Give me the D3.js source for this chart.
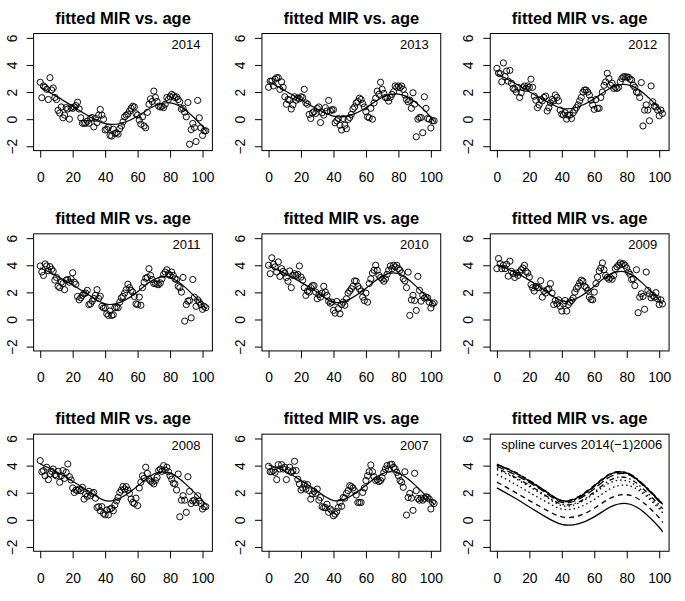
<!DOCTYPE html>
<html><head><meta charset="utf-8">
<script src="https://cdn.jsdelivr.net/npm/d3@7"></script>
<style>
body{margin:0;background:#fff}
svg{display:block}
text{font-family:"Liberation Sans",Arial,Helvetica,sans-serif;fill:#000}
</style></head>
<body><svg id="chart" width="685" height="601"></svg>
<script>
// ---------- data ----------
const ages = [0,1,2,3,4,5,6,7,8,9,10,11,12,13,14,15,16,17,18,19,20,21,22,23,24,25,26,27,28,29,30,31,32,33,34,35,36,37,38,39,40,41,42,43,44,45,46,47,48,49,50,51,52,53,54,55,56,57,58,59,60,61,62,63,64,65,66,67,68,69,70,71,72,73,74,75,76,77,78,79,80,81,82,83,84,85,86,87,88,89,90,91,92,93,94,95,96,97,98,99,100,101,102];

const years = [2014,2013,2012,2011,2010,2009,2008,2007];

const mir2014 = [2.72,1.58,2.45,2.35,2.2,1.45,3.06,2.15,2.3,1.6,
1.45,0.65,0.45,0.9,0.1,0.3,0.85,0.75,0.0,0.85,
0.8,0.9,1.0,1.25,0.75,0.1,-0.3,-0.3,-0.3,-0.15,
-0.3,0.05,0.12,-0.57,0.05,-0.25,0.3,0.72,0.3,0.0,
-0.8,-0.75,-0.6,-1.2,-1.25,-0.75,-1.05,-1.0,-1.1,-0.7,
-0.5,-0.2,0.17,0.3,0.37,0.6,0.8,0.95,0.9,0.4,
0.3,-0.07,-0.37,0.17,-0.5,-0.64,0.5,1.1,1.5,1.3,
2.07,1.6,1.3,0.95,0.9,0.95,0.85,1.1,1.6,1.45,
1.65,1.83,1.73,1.6,1.65,1.45,1.28,0.74,0.8,0.52,
0.17,1.23,-1.85,-0.77,-0.32,-0.62,-1.65,1.38,0.1,-0.64,
-1.2,-0.86,-0.86];

const mir2013 = [2.35,2.8,2.8,2.45,2.95,3.06,3.06,2.2,2.75,2.35,
1.65,1.1,1.45,1.4,0.75,1.05,1.65,1.4,1.55,1.5,
1.65,1.6,2.2,1.2,1.1,0.35,0.05,0.47,0.55,0.42,
0.8,0.9,-0.25,0.47,0.3,0.85,0.6,1.38,0.6,0.7,
0.7,-0.27,-0.12,0.05,-0.45,-0.8,0.05,-0.45,-0.7,-0.02,
0.12,0.35,0.75,0.9,1.2,1.3,1.55,1.45,1.15,0.9,
0.55,0.17,0.1,0.8,0.0,1.2,1.55,2.07,1.83,2.72,
2.2,1.9,1.6,1.58,1.33,1.6,1.83,2.02,2.45,2.35,
2.45,2.32,2.45,2.2,1.78,1.45,1.28,1.4,0.8,1.95,
1.1,-1.3,0.0,0.12,0.12,-1.0,1.65,0.8,0.05,0.0,
-0.65,-0.12,-0.12];

const mir2012 = [3.75,3.4,3.35,2.75,4.15,3.15,3.55,2.8,3.6,2.65,
2.27,2.2,2.0,2.35,1.6,1.95,2.32,2.45,2.27,2.45,
2.35,2.95,2.35,1.7,1.4,0.85,1.05,1.45,1.35,1.6,
1.7,0.6,0.85,1.2,1.45,1.35,1.78,1.6,1.35,0.67,
0.37,0.3,0.47,0.0,0.3,0.3,0.05,0.47,0.67,0.85,
1.05,1.35,1.6,2.0,2.15,2.15,2.0,1.78,1.4,1.05,
0.72,1.45,0.8,0.8,1.6,2.0,2.5,2.75,3.38,3.0,
2.5,2.65,2.27,2.35,2.27,2.35,2.75,3.0,3.13,3.13,
3.1,3.1,2.95,2.9,2.5,2.35,2.0,1.95,1.6,2.7,
-0.5,0.67,1.05,0.67,-0.12,2.45,1.28,0.95,0.9,0.67,
0.25,0.67,0.42];

const mir2011 = [3.95,3.5,3.25,4.1,3.95,3.6,3.9,3.7,3.55,2.9,
3.1,2.45,2.35,2.75,2.65,2.2,2.9,2.95,2.75,3.0,
3.45,2.75,2.6,1.7,1.45,1.6,1.78,1.9,1.95,2.15,
1.1,1.15,1.35,1.55,1.78,2.2,1.55,1.72,0.97,0.85,
0.87,0.42,0.3,0.62,0.3,0.35,0.87,0.9,0.87,1.28,
1.6,1.7,1.95,2.2,2.6,2.35,2.15,2.02,1.7,1.15,
1.1,1.65,1.05,2.35,2.75,3.05,3.1,3.75,3.25,2.95,
2.65,2.65,2.6,2.57,2.7,3.0,3.33,3.5,3.67,3.38,
3.25,3.5,3.25,3.0,2.95,2.45,2.35,2.02,3.1,-0.12,
1.1,1.35,1.4,0.12,2.95,1.65,0.97,1.45,1.28,1.1,
0.75,0.97,0.87];

const mir2010 = [4.0,3.38,4.55,4.07,3.88,3.5,4.25,3.18,3.75,3.55,
3.43,3.1,2.82,3.58,2.35,3.25,3.38,3.25,3.33,3.95,
3.13,2.9,2.35,1.78,2.1,2.02,2.35,2.5,2.5,2.02,
1.53,1.83,1.65,1.95,2.45,2.02,1.78,1.35,1.2,1.28,
0.67,0.47,1.33,0.8,0.42,1.1,1.28,1.05,1.53,1.95,
2.1,2.27,2.45,2.85,2.82,2.45,2.27,2.1,1.65,1.4,
1.95,1.28,2.65,3.0,3.43,3.63,4.0,3.63,3.25,3.1,
2.97,2.82,3.0,3.33,3.63,3.95,3.75,4.0,3.88,4.0,
3.75,3.63,3.43,3.0,2.85,2.35,3.5,0.3,1.45,1.78,
1.4,0.67,3.18,2.15,1.35,1.78,1.58,1.65,1.6,1.28,
0.85,1.15,1.23];

const mir2009 = [3.75,4.5,4.12,3.75,4.0,3.75,4.07,3.2,4.3,3.55,
3.38,3.1,3.43,3.25,3.5,3.67,3.8,4.0,3.55,3.43,
3.13,2.57,2.35,2.1,2.45,2.35,2.35,2.86,1.65,2.1,
1.95,2.2,2.27,2.65,1.95,1.1,1.4,1.15,1.45,0.97,
0.62,1.15,1.4,0.62,1.1,1.28,1.4,1.58,2.02,2.27,
2.45,2.7,2.9,2.82,2.45,2.35,2.15,1.65,1.48,1.45,
2.02,2.65,3.13,3.58,3.8,4.17,3.67,3.25,3.1,2.97,
3.1,2.97,3.25,3.75,3.88,4.0,4.17,4.07,4.12,4.0,
3.8,3.5,3.33,2.95,3.0,2.5,3.67,0.5,1.65,1.9,
1.7,0.75,3.5,2.15,1.9,1.6,1.78,1.65,1.98,1.53,
1.1,1.45,1.15];

const mir2008 = [4.37,3.55,3.63,3.25,3.88,2.97,3.38,3.58,3.75,3.33,
3.25,3.58,2.77,3.25,3.63,3.06,3.5,4.12,3.18,2.94,
2.35,2.02,2.2,2.15,2.27,2.15,2.4,1.53,1.9,1.73,
2.1,1.78,1.95,2.02,1.6,0.91,0.97,0.67,0.97,0.47,
0.37,0.72,0.37,0.8,0.87,0.67,1.1,1.4,1.65,2.02,
2.2,2.45,2.27,2.45,2.2,1.95,1.53,1.28,1.2,1.6,
1.05,2.35,2.77,3.25,3.06,3.88,3.43,3.0,2.85,2.77,
2.65,2.9,3.13,3.63,3.75,3.58,4.0,3.67,3.88,3.55,
3.25,3.0,2.7,2.65,2.2,3.38,0.22,1.45,1.78,1.45,
0.55,3.18,2.1,1.2,1.4,1.45,1.28,1.78,1.4,1.2,
0.8,0.97,0.97];

const mir2007 = [3.95,3.55,3.55,3.63,3.5,2.97,4.07,3.75,4.07,3.75,
3.88,2.97,3.63,3.88,3.5,3.63,4.32,3.63,3.0,2.65,
2.2,2.35,2.65,2.27,2.6,2.15,1.53,1.9,2.1,1.95,
2.27,1.45,1.65,0.97,0.91,0.91,1.15,0.55,0.8,0.67,
0.3,0.42,0.6,0.91,1.28,1.0,1.65,1.6,1.95,2.15,
2.52,2.45,2.35,2.15,1.83,1.28,1.28,1.28,2.02,2.35,
2.9,3.25,3.55,4.05,3.55,3.18,2.9,2.97,2.82,2.9,
3.1,3.5,3.75,4.0,3.75,4.07,4.1,3.88,3.75,3.5,
3.25,2.9,2.77,2.4,3.55,0.35,1.65,1.95,1.6,0.7,
3.43,2.15,1.58,1.45,1.6,1.45,1.58,1.7,1.65,1.53,
0.8,1.3,1.2];

// fitted spline curves, read at these ages
const splineAges = [0,10,20,30,40,50,60,70,80,90,100,102];
const fit2014 = [2.36,1.68,0.95,0.22,-0.33,-0.3,0.22,0.95,1.2,0.62,-0.55,-0.9];
const fit2013 = [2.78,2.12,1.42,0.75,0.22,0.28,0.85,1.6,1.85,1.3,0.15,-0.2];
const fit2012 = [3.35,2.72,2.02,1.35,0.8,0.9,1.5,2.3,2.55,1.95,0.8,0.5];
const fit2011 = [3.82,3.22,2.55,1.8,1.15,1.3,2.05,2.95,3.1,2.3,1.1,0.85];
const fit2010 = [3.95,3.4,2.75,2.0,1.28,1.5,2.3,3.2,3.38,2.55,1.35,1.1];
const fit2009 = [4.05,3.55,2.9,2.1,1.38,1.6,2.45,3.35,3.48,2.65,1.45,1.15];
const fit2008 = [4.12,3.55,2.85,2.1,1.42,1.65,2.5,3.38,3.45,2.6,1.42,1.18];
const fit2007 = [4.05,3.6,2.9,2.12,1.42,1.7,2.55,3.4,3.45,2.6,1.4,1.15];
const fit2006 = [3.7,3.15,2.45,1.72,1.05,1.22,1.95,2.75,2.88,2.1,0.95,0.72];

const xTicks = [0,20,40,60,80,100];
const yTicks = [-2,0,2,4,6];
const titleText = "fitted MIR vs. age";
const splineLabel = "spline curves 2014(\u22121)2006";

const scatterSeries = [mir2014,mir2013,mir2012,mir2011,mir2010,mir2009,mir2008,mir2007];
const fitSeries = [fit2014,fit2013,fit2012,fit2011,fit2010,fit2009,fit2008,fit2007,fit2006];
const dashes = [null,"5,4","1.5,3","1.5,3,5,3","8,3.5","2.5,2.5,7,2.5",null,"5,4","1.5,3"];

// ---------- drawing ----------
const svg = d3.select("#chart");
const PW = 685/3, PH = 601/3;
const box = {l:33.6, r:212.4, t:33.5, b:150.6};

const x = d3.scaleLinear().domain([-4.08,106.08]).range([box.l, box.r]);
const y = d3.scaleLinear().domain([-2.32,6.32]).range([box.b, box.t]);

const line = d3.line().x(d => x(d[0])).y(d => y(d[1])).curve(d3.curveNatural);

function frame(g){
  g.append("text").attr("x",(box.l+box.r)/2).attr("y",23.5)
    .attr("text-anchor","middle").style("font-weight","bold").style("font-size","16.5px")
    .text(titleText);
  const xa = g.append("g").attr("transform",`translate(0,${box.b})`)
    .call(d3.axisBottom(x).tickValues(xTicks).tickSize(7).tickPadding(14.5).tickFormat(d3.format("d")));
  xa.select(".domain").remove();
  xa.selectAll("line").attr("stroke","#000");
  xa.selectAll("text").style("font-size","13.8px").attr("font-family",null);
  const ya = g.append("g").attr("transform",`translate(${box.l},0)`)
    .call(d3.axisLeft(y).tickValues(yTicks).tickSize(7).tickFormat(d => d<0 ? "\u2212"+Math.abs(d) : d));
  ya.select(".domain").remove();
  ya.selectAll("line").attr("stroke","#000");
  ya.selectAll("text").attr("x",0).attr("dy",0).attr("text-anchor","middle")
    .attr("transform","translate(-16.8,0) rotate(-90)")
    .style("font-size","13.8px").attr("font-family",null);
  g.append("rect").attr("x",box.l).attr("y",box.t).attr("width",box.r-box.l).attr("height",box.b-box.t)
    .attr("fill","none").attr("stroke","#000").attr("stroke-width",1);
}

for(let i=0;i<9;i++){
  const col = i%3, row = Math.floor(i/3);
  const g = svg.append("g").attr("transform",`translate(${col*PW},${row*PH})`);
  frame(g);
  if(i<8){
    const vals = scatterSeries[i];
    const pts = ages.map((a,k)=>[a,vals[k]]);
    g.append("g").selectAll("circle").data(pts).join("circle")
      .attr("cx",d=>x(d[0])).attr("cy",d=>y(d[1])).attr("r",3.1)
      .attr("fill","none").attr("stroke","#000").attr("stroke-width",0.95);
    const f = fitSeries[i];
    g.append("path").attr("d",line(splineAges.map((a,k)=>[a,f[k]])))
      .attr("fill","none").attr("stroke","#000").attr("stroke-width",1.2);
    g.append("text").attr("x",200.5).attr("y",49).attr("text-anchor","end")
      .style("font-size","13px").text(years[i]);
  } else {
    fitSeries.forEach((f,k)=>{
      g.append("path").attr("d",line(splineAges.map((a,j)=>[a,f[j]])))
        .attr("fill","none").attr("stroke","#000").attr("stroke-width",1.3)
        .attr("stroke-dasharray",dashes[k]);
    });
    g.append("text").attr("x",205.5).attr("y",48.5).attr("text-anchor","end")
      .style("font-size","13px").text(splineLabel);
  }
}
</script></body></html>
